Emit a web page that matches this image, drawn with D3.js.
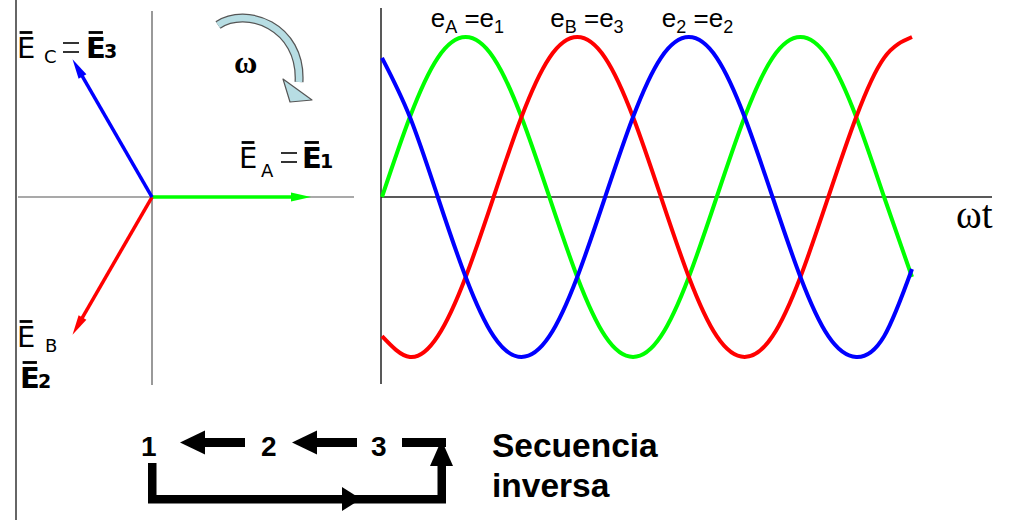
<!DOCTYPE html>
<html>
<head>
<meta charset="utf-8">
<script src="https://cdn.jsdelivr.net/npm/d3@7"></script>
<style>
  body { margin: 0; background: #fff; }
  svg { display: block; }
</style>
</head>
<body>
<svg id="chart"></svg>
<script>
// electrical angle (deg), read every 30 degrees off the picture
const wt = [0, 30, 60, 90, 120, 150, 180, 210, 240, 270, 300, 330, 360, 390, 420, 450, 480, 510, 540, 570];
const eA = [0, 0.5, 0.87, 1, 0.87, 0.5, 0, -0.5, -0.87, -1, -0.87, -0.5, 0, 0.5, 0.87, 1, 0.87, 0.5, 0, -0.5];
const eB = [-0.87, -1, -0.87, -0.5, 0, 0.5, 0.87, 1, 0.87, 0.5, 0, -0.5, -0.87, -1, -0.87, -0.5, 0, 0.5, 0.87, 1];
const eC = [0.87, 0.5, 0, -0.5, -0.87, -1, -0.87, -0.5, 0, 0.5, 0.87, 1, 0.87, 0.5, 0, -0.5, -0.87, -1, -0.87, -0.45];

const phaseNames = ["A", "B", "C"];
const phaseColors = ["#00ff00", "#ff0000", "#0000ff"];
const phasorAngles = [0, -120, 120];
const phasorMag = [1, 1, 1];
const peakAngles = [90, 210, 330];

const waveLabels = [["e", "A", " =e", "1"], ["e", "B", " =e", "3"], ["e", "2", " =e", "2"]];
const seqNumbers = ["1", "2", "3"];
const seqTitle = ["Secuencia", "inversa"];

const W = 1017, H = 520;
const svg = d3.select("#chart").attr("width", W).attr("height", H);

// left frame line
svg.append("line")
    .attr("x1", 16).attr("x2", 16).attr("y1", 0).attr("y2", H)
    .attr("stroke", "#333").attr("stroke-width", 1.5);

// ---------- phasor diagram ----------
const ox = 152, oy = 197;
const r = d3.scaleLinear().domain([0, 1]).range([0, 159]);

svg.append("line").attr("x1", ox).attr("x2", ox).attr("y1", 11).attr("y2", 385)
    .attr("stroke", "#555").attr("stroke-width", 1.2);
svg.append("line").attr("x1", 18).attr("x2", 354).attr("y1", oy).attr("y2", oy)
    .attr("stroke", "#555").attr("stroke-width", 1.2);

const phasors = phaseNames.map((p, i) => ({
    name: p, color: phaseColors[i],
    ang: phasorAngles[i] * Math.PI / 180, mag: phasorMag[i]
}));

const headLen = 20, headHalf = 4.5;
const pg = svg.append("g");
phasors.forEach(d => {
    const tx = ox + r(d.mag) * Math.cos(d.ang);
    const ty = oy - r(d.mag) * Math.sin(d.ang);
    const ux = Math.cos(d.ang), uy = -Math.sin(d.ang);
    const bx = tx - ux * headLen, by = ty - uy * headLen;
    pg.append("line")
        .attr("x1", ox).attr("y1", oy).attr("x2", bx + ux * 2).attr("y2", by + uy * 2)
        .attr("stroke", d.color).attr("stroke-width", 3.5);
    pg.append("polygon")
        .attr("points", [[tx, ty], [bx - uy * headHalf, by + ux * headHalf], [bx + uy * headHalf, by - ux * headHalf]].join(" "))
        .attr("fill", d.color);
});

// phasor labels
const sans = "'DejaVu Sans', 'Noto Sans', sans-serif";
function piece(x, y, t, size, weight, bar) {
    const el = svg.append("text").attr("x", x).attr("y", y)
        .attr("font-family", sans).attr("font-size", size)
        .attr("font-weight", weight || "normal").attr("fill", "#000").text(t);
    if (bar) {
        const b = el.node().getBBox();
        svg.append("line")
            .attr("x1", b.x + size * 0.09).attr("x2", b.x + b.width - size * 0.1)
            .attr("y1", y - size * 0.88).attr("y2", y - size * 0.88)
            .attr("stroke", "#000").attr("stroke-width", 2.8);
    }
    return el;
}
function eq(x, y) {
    // wide equals sign, as in the original
    [0, 9].forEach(dy => svg.append("line")
        .attr("x1", x).attr("x2", x + 16).attr("y1", y + dy).attr("y2", y + dy)
        .attr("stroke", "#000").attr("stroke-width", 1.6));
}
// E_C = E3
piece(17, 58, "E", 29, "normal", true);
piece(44, 63, phaseNames[2], 18);
eq(63, 43);
piece(86, 58, "E", 29, "bold", true);
piece(104, 58, "3", 19, "bold");
// E_A = E1
piece(239, 168, "E", 29, "normal", true);
piece(261, 177, phaseNames[0], 18);
eq(281, 153);
piece(302, 168, "E", 29, "bold", true);
piece(320, 168, "1", 19, "bold");
// E_B / E2
piece(17, 347, "E", 29, "normal", true);
piece(45, 352, phaseNames[1], 18);
piece(20, 388, "E", 29, "bold", true);
piece(38, 388, "2", 19, "bold");

// rotation arrow with omega
const rot = svg.append("g");
const rotPath = "M218,25 C246,6 302,26 299,82";
rot.append("path").attr("d", rotPath).attr("fill", "none")
    .attr("stroke", "#555").attr("stroke-width", 9);
rot.append("path").attr("d", rotPath).attr("fill", "none")
    .attr("stroke", "#b7dde3").attr("stroke-width", 6.5);
rot.append("polygon")
    .attr("points", "283,79 312,100 290,102")
    .attr("fill", "#b7dde3").attr("stroke", "#555").attr("stroke-width", 1.2)
    .attr("stroke-linejoin", "round");
svg.append("text").attr("x", 234).attr("y", 73)
    .attr("font-family", "'Liberation Serif', 'DejaVu Serif', serif")
    .attr("font-size", 32).attr("font-weight", "bold").text("ω");

// ---------- waveforms ----------
const x = d3.scaleLinear().domain([0, 570]).range([382, 912]);
const y = d3.scaleLinear().domain([-1, 1]).range([357, 37]);

svg.append("line").attr("x1", 381).attr("x2", 381).attr("y1", 8).attr("y2", 384)
    .attr("stroke", "#222").attr("stroke-width", 1.5);
svg.append("line").attr("x1", 381).attr("x2", 992).attr("y1", y(0)).attr("y2", y(0))
    .attr("stroke", "#222").attr("stroke-width", 1.5);

const series = [eA, eB, eC];
const line = d3.line()
    .x(d => x(d[0]))
    .y(d => y(d[1]))
    .curve(d3.curveNatural);

svg.append("g").selectAll("path")
    .data(series)
    .join("path")
    .attr("d", s => line(s.map((v, i) => [wt[i], v])))
    .attr("fill", "none")
    .attr("stroke", (s, i) => phaseColors[i])
    .attr("stroke-width", 4);

// labels above peaks
const arial = "'Liberation Sans', Arial, sans-serif";
waveLabels.forEach((lab, i) => {
    const t = svg.append("text")
        .attr("x", x(peakAngles[i]) - (i === 0 ? 35 : 27))
        .attr("y", 27)
        .attr("font-family", arial).attr("font-size", 26).attr("fill", "#000");
    t.append("tspan").text(lab[0]);
    t.append("tspan").attr("font-size", 18).attr("dy", 6).text(lab[1]);
    t.append("tspan").attr("dy", -6).text(lab[2]);
    t.append("tspan").attr("font-size", 18).attr("dy", 6).text(lab[3]);
});

svg.append("text").attr("x", 956).attr("y", 228)
    .attr("font-family", "'Liberation Serif', 'DejaVu Serif', serif")
    .attr("font-size", 39).attr("fill", "#000").text("ωt");

// ---------- sequence diagram ----------
const sg = svg.append("g");
const numX = [141, 261, 371];
sg.selectAll("text.num")
    .data(seqNumbers)
    .join("text")
    .attr("class", "num")
    .attr("x", (d, i) => numX[i]).attr("y", 456)
    .attr("font-family", arial).attr("font-size", 28).attr("font-weight", "bold")
    .text(d => d);

const sy = 442.5, th = 9;
function leftArrow(tip, tail) {
    sg.append("rect").attr("x", tip + 22).attr("y", sy - th / 2)
        .attr("width", tail - tip - 22).attr("height", th).attr("fill", "#000");
    sg.append("polygon").attr("points", [[tip, sy], [tip + 25, sy - 12], [tip + 25, sy + 12]].join(" "))
        .attr("fill", "#000");
}
leftArrow(180, 245);
leftArrow(292, 357);

// return path 3 -> 1
const by = 499;
sg.append("rect").attr("x", 402).attr("y", sy - th / 2).attr("width", 44).attr("height", th).attr("fill", "#000");
sg.append("rect").attr("x", 437.5).attr("y", 462).attr("width", 8.5).attr("height", by - 462 + 4).attr("fill", "#000");
sg.append("polygon").attr("points", [[441.5, 440], [430, 466], [453, 466]].join(" ")).attr("fill", "#000");
sg.append("rect").attr("x", 148).attr("y", 463).attr("width", 8.5).attr("height", by - 463 + 4).attr("fill", "#000");
sg.append("rect").attr("x", 148).attr("y", by - 4).attr("width", 298).attr("height", 8.5).attr("fill", "#000");
sg.append("polygon").attr("points", [[361, by], [342, by - 12], [342, by + 12]].join(" ")).attr("fill", "#000");

sg.selectAll("text.title")
    .data(seqTitle)
    .join("text")
    .attr("class", "title")
    .attr("x", 492).attr("y", (d, i) => 457 + i * 40)
    .attr("font-family", arial).attr("font-size", 33.5).attr("font-weight", "bold")
    .text(d => d);
</script>
</body>
</html>
